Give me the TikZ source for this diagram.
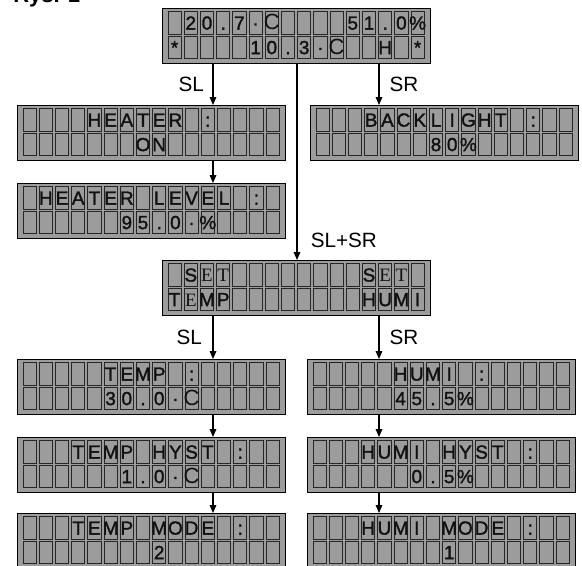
\documentclass[tikz,border=0pt]{standalone}
\usepackage{fontspec}
\setmainfont{Liberation Sans}
\newfontfamily\lcdfont[FakeBold=1.6]{Liberation Sans}
\newfontfamily\thinfont{Liberation Serif}
\newfontfamily\degfont{Liberation Sans}
\usetikzlibrary{positioning,arrows.meta}
\definecolor{lcdgray}{HTML}{9C9C9C}
\definecolor{celledge}{HTML}{262626}
\definecolor{ink}{HTML}{111111}

\newcommand\degC{{\degfont\fontsize{16.5}{16}\selectfont C}}

% 16x2 display: name, top left corner, upper row, lower row
\newcommand\lcd[4]{%
  \node[lcdbox] (#1) at (#2) {};
  \begin{scope}[shift={(#1.north west)}]
    \foreach \k in {0,...,15}{
      \draw[lcdcell] (6+16.2*\k,3.5) rectangle +(13.2,22.5);
      \draw[lcdcell] (6+16.2*\k,28) rectangle +(13.2,22.5);
    }
    \foreach \c [count=\k from 0] in {#3}
      \node[lcdchar] at (12.6+16.2*\k,21.6) {\c};
    \foreach \c [count=\k from 0] in {#4}
      \node[lcdchar] at (12.6+16.2*\k,46.1) {\c};
  \end{scope}}

\begin{document}
\begin{tikzpicture}[
  x=0.75pt, y=-0.75pt,
  lcdbox/.style={rectangle, draw=black, line width=1.1pt, fill=lcdgray, anchor=north west, inner sep=0pt, minimum width=201pt, minimum height=41.25pt},
  lcdcell/.style={draw=celledge, line width=0.7pt},
  lcdchar/.style={anchor=base, inner sep=0pt, text=ink, font=\lcdfont\fontsize{14.2}{15}\selectfont},
  lbl/.style={inner sep=0pt, font=\fontsize{15.5}{18}\selectfont},
  link/.style={draw=black, line width=0.8pt, -{Triangle[length=6pt,width=5pt]}}
]
  \useasboundingbox (0,0) rectangle (582,565);
  \clip (0,0) rectangle (582,565);
  \node[anchor=base west, inner sep=0pt, font=\bfseries\fontsize{16.5}{18}\selectfont] (title) at (13,2.5) {Rys. 1};

  \lcd{main}{162,8}{,2,0,.,7,·,\degC,,,,,5,1,.,0,\%}{*,,,,,1,0,.,3,·,\degC,,,H,,*}
  \lcd{heater}{17,105}{,,,,H,E,A,T,E,R,,:}{,,,,,,,O,N}
  \lcd{heatlvl}{17,183}{,H,E,A,T,E,R,,L,E,V,E,L,,:}{,,,,,,9,5,.,0,·,\%}
  \lcd{backlight}{310,105}{,,,B,A,C,K,L,I,G,H,T,,:}{,,,,,,,8,0,\%}
  \lcd{setmenu}{162,260}{,S,{\thinfont E},{\thinfont T},,,,,,,,,S,{\thinfont E},{\thinfont T}}{T,{\thinfont E},M,P,,,,,,,,,H,U,M,I}
  \lcd{temp}{17,359}{,,,,,T,E,M,P,,:}{,,,,,3,0,.,0,·,\degC}
  \lcd{temphyst}{17,437}{,,,T,E,M,P,,H,Y,S,T,,:}{,,,,,,1,.,0,·,\degC}
  \lcd{tempmode}{17,513}{,,,T,E,M,P,,M,O,D,E,,:}{,,,,,,,,2}
  \lcd{humi}{307,359}{,,,,,H,U,M,I,,:}{,,,,,4,5,.,5,\%}
  \lcd{humihyst}{307,437}{,,,H,U,M,I,,H,Y,S,T,,:}{,,,,,,0,.,5,\%}
  \lcd{humimode}{307,513}{,,,H,U,M,I,,M,O,D,E,,:}{,,,,,,,,1}

  \coordinate (colL) at (213,0);
  \coordinate (colM) at (297,0);
  \coordinate (colR) at (379,0);

  \draw[link] (main.south -| colL) -- node[lbl, left=6.5pt] {SL} (heater.north -| colL);
  \draw[link] (main.south -| colR) -- node[lbl, right=7.5pt] {SR} (backlight.north -| colR);
  \draw[link] (main.south -| colM) -- node[lbl, pos=0.9, right=10pt] {SL+SR} (setmenu.north -| colM);
  \draw[link] (heater.south -| colL) -- (heatlvl.north -| colL);

  \draw[link] (setmenu.south -| colL) -- node[lbl, left=8pt] {SL} (temp.north -| colL);
  \draw[link] (setmenu.south -| colR) -- node[lbl, right=7.5pt] {SR} (humi.north -| colR);
  \draw[link] (temp.south -| colL) -- (temphyst.north -| colL);
  \draw[link] (temphyst.south -| colL) -- (tempmode.north -| colL);
  \draw[link] (humi.south -| colR) -- (humihyst.north -| colR);
  \draw[link] (humihyst.south -| colR) -- (humimode.north -| colR);
\end{tikzpicture}
\end{document}
